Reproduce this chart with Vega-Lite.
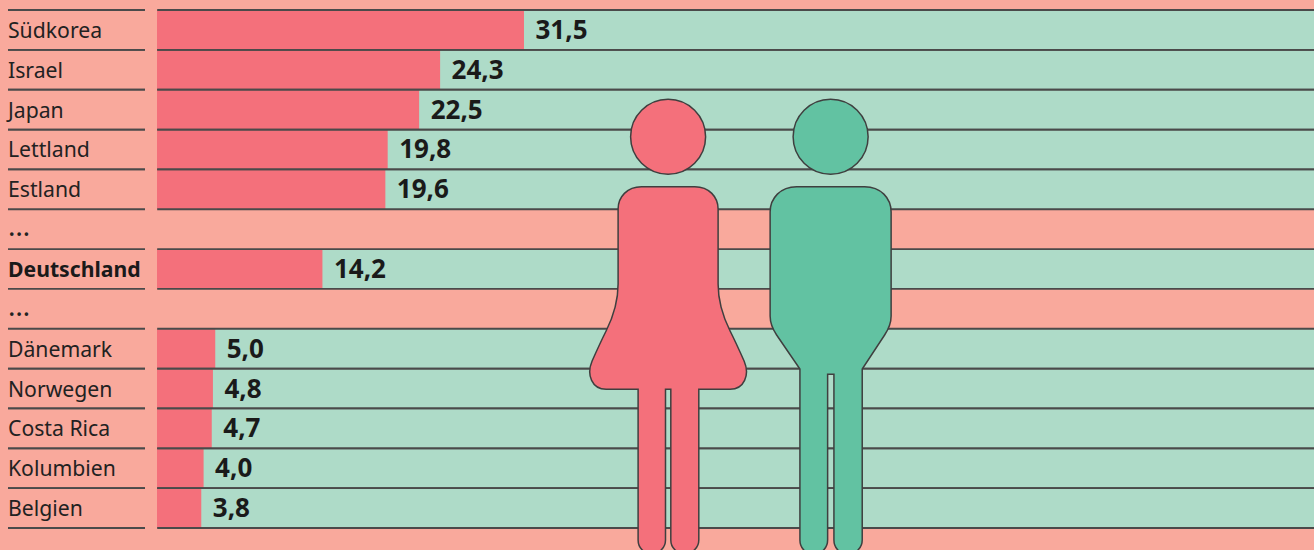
{
"$schema":"https://vega.github.io/schema/vega-lite/v6.json",
"width":1314,"height":550,"padding":0,"autosize":{"type":"none"},
"background":"#F9A99C",
"view":{"stroke":null},
"datasets":{
"rows":[
{"row":"Südkorea","label":"Südkorea","value":31.5,"total":100,"text":"31,5"},
{"row":"Israel","label":"Israel","value":24.3,"total":100,"text":"24,3"},
{"row":"Japan","label":"Japan","value":22.5,"total":100,"text":"22,5"},
{"row":"Lettland","label":"Lettland","value":19.8,"total":100,"text":"19,8"},
{"row":"Estland","label":"Estland","value":19.6,"total":100,"text":"19,6"},
{"row":"gap1","label":"…"},
{"row":"Deutschland","label":"Deutschland","value":14.2,"total":100,"text":"14,2"},
{"row":"gap2","label":"…"},
{"row":"Dänemark","label":"Dänemark","value":5.0,"total":100,"text":"5,0"},
{"row":"Norwegen","label":"Norwegen","value":4.8,"total":100,"text":"4,8"},
{"row":"Costa Rica","label":"Costa Rica","value":4.7,"total":100,"text":"4,7"},
{"row":"Kolumbien","label":"Kolumbien","value":4.0,"total":100,"text":"4,0"},
{"row":"Belgien","label":"Belgien","value":3.8,"total":100,"text":"3,8"}
],
"figures":[
{"figure":"Frau","pos":43.87,"row":"Deutschland"},
{"figure":"Mann","pos":57.82,"row":"Deutschland"}
]},
"data":{"name":"rows"},
"encoding":{
"y":{"field":"row","type":"nominal","sort":null,"axis":null,"scale":{"range":[10,528],"paddingInner":0,"paddingOuter":0,"domain":["Südkorea","Israel","Japan","Lettland","Estland","gap1","Deutschland","gap2","Dänemark","Norwegen","Costa Rica","Kolumbien","Belgien"]}}
},
"layer":[
{"transform":[{"filter":"isValid(datum.value)"}],"mark":{"type":"bar","color":"#AEDBC8","clip":true},
 "encoding":{"x":{"field":"total","type":"quantitative","axis":null,"scale":{"domain":[-13.476,99.31],"range":[0,1314],"zero":false,"nice":false},"stack":null}}},
{"transform":[{"filter":"isValid(datum.value)"}],"mark":{"type":"bar","color":"#F4707B"},
 "encoding":{"x":{"field":"value","type":"quantitative","axis":null,"stack":null}}},
{"transform":[{"filter":"isValid(datum.value)"}],"mark":{"type":"tick","orient":"horizontal","size":1160,"thickness":1.8,"color":"#4A4A4A","opacity":1},
 "encoding":{"y":{"field":"row","type":"nominal","sort":null,"bandPosition":0},"x":{"datum":49.8,"type":"quantitative"}}},
{"transform":[{"filter":"isValid(datum.value)"}],"mark":{"type":"tick","orient":"horizontal","size":1160,"thickness":1.8,"color":"#4A4A4A","opacity":1},
 "encoding":{"y":{"field":"row","type":"nominal","sort":null,"bandPosition":1},"x":{"datum":49.8,"type":"quantitative"}}},
{"transform":[{"filter":"isValid(datum.value)"}],"mark":{"type":"tick","orient":"horizontal","size":137,"thickness":1.8,"color":"#4A4A4A","opacity":1},
 "encoding":{"y":{"field":"row","type":"nominal","sort":null,"bandPosition":0},"x":{"datum":-6.91,"type":"quantitative"}}},
{"transform":[{"filter":"isValid(datum.value)"}],"mark":{"type":"tick","orient":"horizontal","size":137,"thickness":1.8,"color":"#4A4A4A","opacity":1},
 "encoding":{"y":{"field":"row","type":"nominal","sort":null,"bandPosition":1},"x":{"datum":-6.91,"type":"quantitative"}}},
{"transform":[{"filter":"datum.label!=='Deutschland' && datum.label!=='…'"}],"mark":{"type":"text","align":"left","baseline":"middle","dy":2,"font":"Noto Sans","fontSize":21.2,"color":"#222222"},
 "encoding":{"x":{"datum":-12.79,"type":"quantitative"},"text":{"field":"label"}}},
{"transform":[{"filter":"datum.label==='…'"}],"mark":{"type":"text","align":"left","baseline":"middle","dy":-1,"font":"Noto Sans","fontSize":28,"color":"#222222"},
 "encoding":{"x":{"datum":-12.79,"type":"quantitative"},"text":{"field":"label"}}},
{"transform":[{"filter":"datum.label==='Deutschland'"}],"mark":{"type":"text","align":"left","baseline":"middle","dy":2,"font":"Noto Sans","fontSize":21.2,"fontWeight":"bold","color":"#1A1A1A"},
 "encoding":{"x":{"datum":-12.79,"type":"quantitative"},"text":{"field":"label"}}},
{"transform":[{"filter":"isValid(datum.value)"}],"mark":{"type":"text","align":"left","baseline":"middle","dx":11.5,"dy":1,"font":"Noto Sans","fontSize":26,"fontWeight":"bold","color":"#1A1A1A"},
 "encoding":{"x":{"field":"value","type":"quantitative"},"text":{"field":"text"}}},
{"data":{"name":"figures"},"transform":[{"filter":"datum.figure==='Frau'"}],
 "mark":{"type":"point","filled":true,"opacity":1,"size":4,"fill":"#F4707B","stroke":"#3F3F3F","strokeWidth":1.5,
 "shape":"M-37.5,-132.3A37.5,37.5,0,1,1,37.5,-132.3A37.5,37.5,0,1,1,-37.5,-132.3Z M-26.6,-82.3 L26.7,-82.3 C41,-82.3,50,-72,50,-60 L50,15 C50,35,56,50,62,62 C67,72,72,83,76,92 C82,106,76,120.3,62,120.3 L30.7,120.3 L30.7,271 C30.7,279,24,284.5,16.7,284.5 C9,284.5,2.7,279,2.7,271 L2.7,120.3 L-2.6,120.3 L-2.6,271 C-2.6,279,-9,284.5,-16.3,284.5 C-24,284.5,-30,279,-30,271 L-30,120.3 L-62,120.3 C-76,120.3,-82,106,-76,92 C-72,83,-67,72,-62,62 C-56,50,-50,35,-50,15 L-50,-60 C-50,-72,-41,-82.3,-26.6,-82.3Z"},
 "encoding":{"x":{"field":"pos","type":"quantitative"}}},
{"data":{"name":"figures"},"transform":[{"filter":"datum.figure==='Mann'"}],
 "mark":{"type":"point","filled":true,"opacity":1,"size":4,"fill":"#62C2A2","stroke":"#3F3F3F","strokeWidth":1.5,
 "shape":"M-37.5,-132.3A37.5,37.5,0,1,1,37.5,-132.3A37.5,37.5,0,1,1,-37.5,-132.3Z M-34,-82.3 L34,-82.3 C50,-82.3,60.5,-71,60.5,-57 L60.5,47 C60.5,53,58,60,54,66 L31.6,100 L31.6,271 C31.6,279,25,285,17.5,285 C9,285,3.3,279,3.3,271 L3.3,105.3 L-3,105.3 L-3,271 C-3,279,-9,285,-17,285 C-25,285,-30.7,279,-30.7,271 L-30.7,100 L-54,66 C-58,60,-60.5,53,-60.5,47 L-60.5,-57 C-60.5,-71,-50,-82.3,-34,-82.3Z"},
 "encoding":{"x":{"field":"pos","type":"quantitative"}}}
]
}
